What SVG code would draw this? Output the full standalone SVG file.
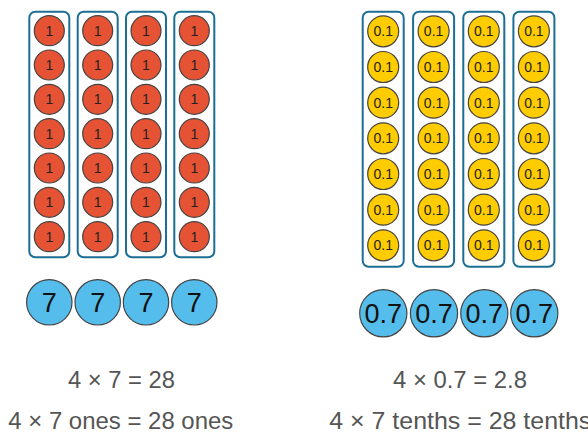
<svg xmlns="http://www.w3.org/2000/svg" xmlns:xlink="http://www.w3.org/1999/xlink" width="588" height="432" viewBox="0 0 588 432">
  <style>
    .box { fill: #ffffff; stroke: #1b6f95; stroke-width: 2; }
    .one { fill: #e55234; stroke: #444444; stroke-width: 1.2; }
    .tenth { fill: #ffcc00; stroke: #444444; stroke-width: 1.2; }
    .sum { fill: #55bdeb; stroke: #444444; stroke-width: 1.2; }
    .lbl { font-family: "Liberation Sans", "Open Sans", sans-serif; fill: #222222; text-anchor: middle; }
    .small { font-size: 14px; }
    .big { font-size: 27px; fill: #111111; }
    .eq { font-family: "Liberation Sans", "Open Sans", sans-serif; font-size: 24.5px; fill: #555555; }
  </style>
  <defs>
    <g id="coin1">
      <circle class="one" r="15" cx="0" cy="0"/>
      <text class="lbl small" x="0" y="5">1</text>
    </g>
    <g id="coin01">
      <circle class="tenth" r="15.5" cx="0" cy="0"/>
      <text class="lbl small" x="0" y="5">0.1</text>
    </g>
    <g id="colOnes">
      <rect class="box" x="-20" y="11.7" width="40" height="245.6" rx="6"/>
      <use xlink:href="#coin1" y="30.7"/>
      <use xlink:href="#coin1" y="65"/>
      <use xlink:href="#coin1" y="99.3"/>
      <use xlink:href="#coin1" y="133.7"/>
      <use xlink:href="#coin1" y="168"/>
      <use xlink:href="#coin1" y="202.3"/>
      <use xlink:href="#coin1" y="236.7"/>
    </g>
    <g id="colTenths">
      <rect class="box" x="-20.5" y="11.7" width="41" height="255" rx="6"/>
      <use xlink:href="#coin01" y="31.3"/>
      <use xlink:href="#coin01" y="67"/>
      <use xlink:href="#coin01" y="102.7"/>
      <use xlink:href="#coin01" y="138.3"/>
      <use xlink:href="#coin01" y="174"/>
      <use xlink:href="#coin01" y="209.7"/>
      <use xlink:href="#coin01" y="245.3"/>
    </g>
  </defs>

  <!-- ones columns -->
  <g id="ones-col-1"><use xlink:href="#colOnes" x="49.3"/></g>
  <g id="ones-col-2"><use xlink:href="#colOnes" x="97.7"/></g>
  <g id="ones-col-3"><use xlink:href="#colOnes" x="146"/></g>
  <g id="ones-col-4"><use xlink:href="#colOnes" x="194.3"/></g>

  <!-- tenths columns -->
  <g id="tenths-col-1"><use xlink:href="#colTenths" x="383.2"/></g>
  <g id="tenths-col-2"><use xlink:href="#colTenths" x="433.6"/></g>
  <g id="tenths-col-3"><use xlink:href="#colTenths" x="483.8"/></g>
  <g id="tenths-col-4"><use xlink:href="#colTenths" x="533.9"/></g>

  <!-- column totals -->
  <g id="sum-7-1"><circle class="sum" cx="49.3" cy="302.3" r="22.7"/><text class="lbl big" x="49.3" y="312">7</text></g>
  <g id="sum-7-2"><circle class="sum" cx="97.7" cy="302.3" r="22.7"/><text class="lbl big" x="97.7" y="312">7</text></g>
  <g id="sum-7-3"><circle class="sum" cx="146" cy="302.3" r="22.7"/><text class="lbl big" x="146" y="312">7</text></g>
  <g id="sum-7-4"><circle class="sum" cx="194.3" cy="302.3" r="22.7"/><text class="lbl big" x="194.3" y="312">7</text></g>

  <g id="sum-07-1"><circle class="sum" cx="383.3" cy="313.3" r="23.6"/><text class="lbl big" x="383.3" y="323" font-size="26">0.7</text></g>
  <g id="sum-07-2"><circle class="sum" cx="434" cy="313.3" r="23.6"/><text class="lbl big" x="434" y="323" font-size="26">0.7</text></g>
  <g id="sum-07-3"><circle class="sum" cx="484.3" cy="313.3" r="23.6"/><text class="lbl big" x="484.3" y="323" font-size="26">0.7</text></g>
  <g id="sum-07-4"><circle class="sum" cx="534.3" cy="313.3" r="23.6"/><text class="lbl big" x="534.3" y="323" font-size="26">0.7</text></g>

  <!-- equations -->
  <g id="equations">
    <text class="eq" x="68" y="388" textLength="107" lengthAdjust="spacingAndGlyphs">4 × 7 = 28</text>
    <text class="eq" x="8.3" y="428.5" textLength="225" lengthAdjust="spacingAndGlyphs">4 × 7 ones = 28 ones</text>
    <text class="eq" x="393" y="388" textLength="134" lengthAdjust="spacingAndGlyphs">4 × 0.7 = 2.8</text>
    <text class="eq" x="329.3" y="428.5" textLength="262" lengthAdjust="spacingAndGlyphs">4 × 7 tenths = 28 tenths</text>
  </g>
</svg>
